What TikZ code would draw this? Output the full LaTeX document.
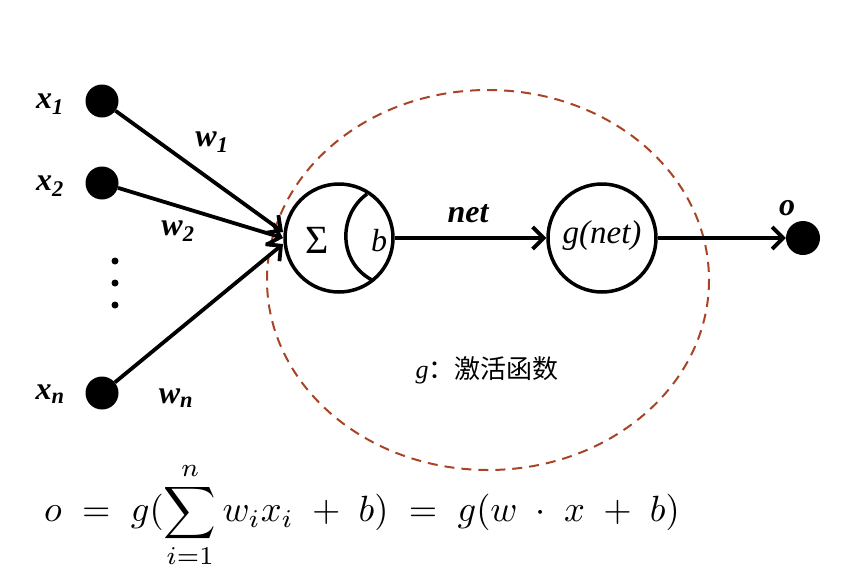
\documentclass[tikz,border=0pt]{standalone}
\usepackage{fontspec}
\setmainfont{Liberation Serif}
\newfontfamily\cjk{Noto Sans CJK SC}
\usetikzlibrary{arrows.meta}
\definecolor{rouille}{RGB}{168,68,38}
\begin{document}
\begin{tikzpicture}[x=1pt,y=-1pt,
        entree/.style={circle,fill=black,inner sep=0pt,minimum size=33pt},
        neurone/.style={circle,draw,line width=3.5pt,minimum size=108pt,inner sep=0pt},
        fleche/.style={line width=3.8pt,-{Straight Barb[length=11pt,width=22pt,line width=3.8pt]}},
        etiq/.style={font=\fontsize{32}{32}\selectfont\bfseries\itshape,inner sep=0pt}]
        \useasboundingbox (0,0) rectangle (842,579);
        % zone de la fonction d'activation
        \draw[rouille,line width=2pt,dash pattern=on 10pt off 7pt] (488,280) ellipse (221 and 190);
        \node[entree] (x1) at (102,101) {};
        \node[entree] (x2) at (102,183) {};
        \node[entree] (xn) at (102,393) {};
        \node[neurone] (somme) at (339,238) {};
        \node[neurone] (act) at (602,238) {};
        \node[entree,minimum size=34pt] (o) at (803,238) {};
        \coordinate (c1) at (283,232);
        \coordinate (c2) at (283,238);
        \coordinate (cn) at (283,244);
        \draw[fleche] (x1) -- (c1);
        \draw[fleche] (x2) -- (c2);
        \draw[fleche] (xn) -- (cn);
        \draw[fleche] (somme) -- (act);
        \draw[fleche] (act) -- (o);
        \fill (115,261) circle (3.5) (115,283) circle (3.5) (115,305) circle (3.5);
        % interieur du neurone
        \draw[line width=3.5pt] (367,194) .. controls (338,215) and (338,262) .. (372,280);
        \node (sigma) at (317,240) {\fontsize{40}{40}\selectfont Σ};
        \node (biais) at (379,241) {\fontsize{32}{32}\selectfont\itshape b};
        \node (gnet) at (602,236) {\fontsize{33}{33}\selectfont\itshape g(net)};
        % etiquettes
        \node[etiq] (lx1) at (50,104) {x\textsubscript{1}};
        \node[etiq] (lx2) at (50,186) {x\textsubscript{2}};
        \node[etiq] (lxn) at (50,394) {x\textsubscript{n}};
        \node[etiq] (lw1) at (212,142) {w\textsubscript{1}};
        \node[etiq] (lw2) at (178,231) {w\textsubscript{2}};
        \node[etiq] (lwn) at (176,398) {w\textsubscript{n}};
        \node[etiq] (lnet) at (468,214) {net};
        \node[etiq] (lo) at (787,208) {o};
        \node (legende) at (487,370) {\fontsize{26}{26}\selectfont\textit{g}{\cjk ：激活函数}};
        \node[scale=3.65] (formule) at (362,515) {$\displaystyle o \;=\; g(\sum_{i=1}^{n} w_i x_i \;+\; b) \;=\; g(w\;\cdot\; x\;+\;b)$};
\end{tikzpicture}
\end{document}
